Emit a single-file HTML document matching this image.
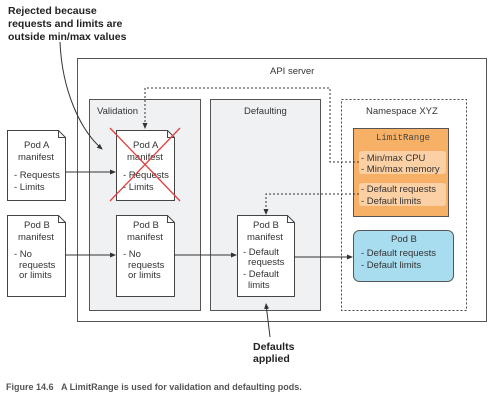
<!DOCTYPE html>
<html><head><style>
body{margin:0;background:#fff;width:494px;height:401px;overflow:hidden}
svg text{font-family:"Liberation Sans",sans-serif;font-size:9.5px;fill:#333}
.b{font-weight:bold;fill:#222;font-size:10.5px}
</style></head><body>
<svg width="494" height="401" viewBox="0 0 494 401" xmlns="http://www.w3.org/2000/svg">
<defs><marker id="a" markerWidth="6" markerHeight="6" refX="5" refY="3" orient="auto"><path d="M0,0.5 L6,3 L0,5.5z" fill="#333"/></marker></defs>
<text class="b" x="8" y="14">Rejected because</text>
<text class="b" x="8" y="27">requests and limits are</text>
<text class="b" x="8" y="40">outside min/max values</text>
<rect x="77.5" y="58.5" width="409" height="263" fill="#fff" stroke="#555"/>
<text x="270" y="74">API server</text>
<rect x="89.5" y="99.5" width="111" height="211" fill="#f0f1f3" stroke="#555"/>
<text x="97" y="114">Validation</text>
<rect x="210.5" y="99.5" width="110" height="211" fill="#f0f1f3" stroke="#555"/>
<text x="244" y="114">Defaulting</text>
<rect x="341.5" y="99.5" width="125" height="211" fill="#fff" stroke="#444" stroke-dasharray="2,2"/>
<text x="366" y="114">Namespace XYZ</text>
<rect x="353.5" y="128.5" width="95" height="88" fill="#f7b167" stroke="#555"/>
<text x="376" y="140" style="font-family:'Liberation Mono',monospace;font-size:9px;fill:#444">LimitRange</text>
<rect x="359" y="151" width="87" height="23" rx="3" fill="#fad0a4"/>
<rect x="359" y="183" width="87" height="23" rx="3" fill="#fad0a4"/>
<text x="361" y="161">- Min/max CPU</text><text x="361" y="172">- Min/max memory</text>
<text x="361" y="192">- Default requests</text><text x="361" y="204">- Default limits</text>
<rect x="353.5" y="230.5" width="100" height="51" rx="6" fill="#a8dcef" stroke="#555"/>
<text x="391" y="242">Pod B</text>
<text x="361" y="256">- Default requests</text><text x="361" y="268">- Default limits</text>
<g fill="#fff" stroke="#444">
<path d="M7.5,130.5 H58.5 L65.5,137.5 V200.5 H7.5Z"/>
<path d="M7.5,215.5 H58.5 L65.5,222.5 V296.5 H7.5Z"/>
<path d="M116.5,130.5 H167.5 L174.5,137.5 V200.5 H116.5Z"/>
<path d="M116.5,215.5 H167.5 L174.5,222.5 V296.5 H116.5Z"/>
<path d="M237.5,215.5 H287.5 L294.5,222.5 V296.5 H237.5Z"/>
</g>
<g fill="none" stroke="#444"><path d="M58.5,130.5 V137.5 H65.5"/><path d="M58.5,215.5 V222.5 H65.5"/><path d="M167.5,130.5 V137.5 H174.5"/><path d="M167.5,215.5 V222.5 H174.5"/><path d="M287.5,215.5 V222.5 H294.5"/></g>
<text x="24" y="148">Pod A</text><text x="18" y="160">manifest</text><text x="14" y="178">- Requests</text><text x="14" y="190">- Limits</text>
<text x="24" y="228">Pod B</text><text x="18" y="240">manifest</text><text x="14" y="257">- No</text><text x="19" y="268">requests</text><text x="19" y="278">or limits</text>
<text x="133" y="148">Pod A</text><text x="127" y="160">manifest</text><text x="123" y="178">- Requests</text><text x="123" y="190">- Limits</text>
<text x="133" y="228">Pod B</text><text x="127" y="240">manifest</text><text x="123" y="257">- No</text><text x="128" y="268">requests</text><text x="128" y="278">or limits</text>
<text x="253" y="228">Pod B</text><text x="247" y="240">manifest</text><text x="243" y="255">- Default</text><text x="248" y="265">requests</text><text x="243" y="277">- Default</text><text x="248" y="288">limits</text>
<g stroke="#e04040" stroke-width="1.3"><line x1="110" y1="128" x2="180" y2="201"/><line x1="180" y1="128" x2="110" y2="201"/></g>
<g stroke="#333" fill="none" marker-end="url(#a)">
<path d="M60,42 C62,90 80,130 102,149"/>
<line x1="65" y1="172" x2="115" y2="172"/>
<line x1="65" y1="255" x2="115" y2="255"/>
<line x1="174" y1="255" x2="236" y2="255"/>
<line x1="294" y1="257" x2="352" y2="257"/>
<path d="M359,162 H330 V88 H145 V128" stroke-dasharray="2,2"/>
<path d="M359,194 H266 V214" stroke-dasharray="2,2"/>
<path d="M270,337 L266,304"/>
</g>
<text class="b" x="253" y="350">Defaults</text>
<text class="b" x="253" y="362">applied</text>
<text x="6" y="390" style="font-weight:bold;font-size:9px;fill:#555">Figure 14.6&#160;&#160;&#160;A LimitRange is used for validation and defaulting pods.</text>
</svg>
</body></html>
